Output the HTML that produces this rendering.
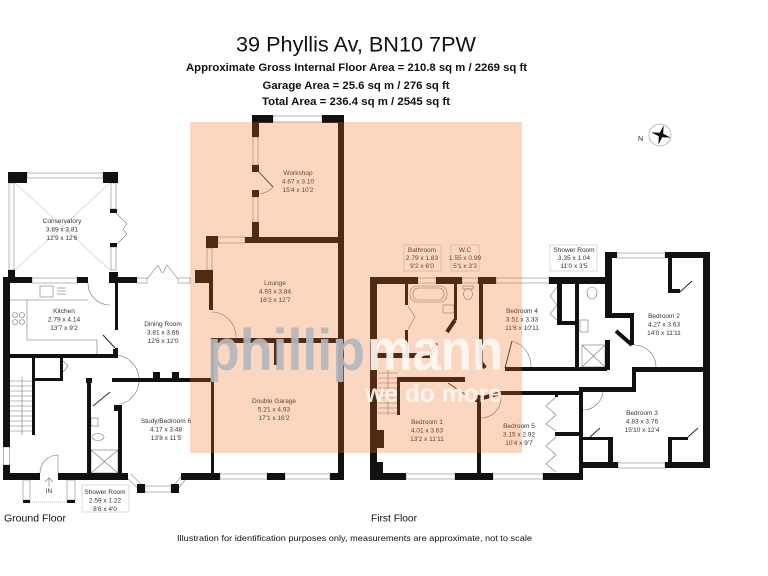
<!DOCTYPE html>
<html><head><meta charset="utf-8"><style>
html,body{margin:0;padding:0;background:#fff;}
svg{display:block;}
text{font-family:"Liberation Sans",Arial,sans-serif;}
.l{font-size:6.5px;fill:#333;text-anchor:middle;}
</style></head><body>
<svg width="768" height="576" viewBox="0 0 768 576" xmlns="http://www.w3.org/2000/svg">
<rect width="768" height="576" fill="#fff"/>

<!-- Title -->
<text x="356" y="51.5" text-anchor="middle" font-size="21.3" fill="#111" textLength="240" lengthAdjust="spacingAndGlyphs">39 Phyllis Av, BN10 7PW</text>
<text x="356.5" y="71" text-anchor="middle" font-size="11.3" font-weight="bold" fill="#111" textLength="341" lengthAdjust="spacingAndGlyphs">Approximate Gross Internal Floor Area = 210.8 sq m / 2269 sq ft</text>
<text x="356" y="89" text-anchor="middle" font-size="11.3" font-weight="bold" fill="#111" textLength="187" lengthAdjust="spacingAndGlyphs">Garage Area = 25.6 sq m / 276 sq ft</text>
<text x="356" y="105" text-anchor="middle" font-size="11.3" font-weight="bold" fill="#111" textLength="188" lengthAdjust="spacingAndGlyphs">Total Area = 236.4 sq m / 2545 sq ft</text>

<!-- Compass -->
<circle cx="660" cy="135" r="11" fill="none" stroke="#aaa" stroke-width="0.8"/>
<polygon points="663.6,125.3 663.2,133.75 670.7,137.6 662.25,137.2 658.4,144.7 658.8,136.25 651.3,132.4 659.75,132.8" fill="#111"/>
<text x="638" y="141" font-size="7" fill="#222">N</text>

<!-- thin lines / fixtures -->
<g fill="none" stroke="#777" stroke-width="0.6">
  <line x1="15" y1="183" x2="110" y2="270" stroke="#ccc"/>
  <line x1="110" y1="183" x2="15" y2="270" stroke="#ccc"/>
  <polyline points="116,213 127,224 123,229"/>
  <polyline points="116,245 127,234 123,229"/>
  <polyline points="147,279 158,265 162,273"/>
  <polyline points="178,279 167,265 163,273"/>
  <path d="M88,283 A22,22 0 0 0 110,305"/>
  <line x1="103" y1="335" x2="115" y2="348" stroke="#222" stroke-width="1"/>
  <polyline points="10,300 88,300"/>
  <polyline points="27,300 27,340 97,340 97,354"/>
  <rect x="40" y="286" width="13" height="11"/>
  <line x1="57" y1="288" x2="66" y2="288"/><line x1="57" y1="291" x2="66" y2="291"/><line x1="57" y1="294" x2="66" y2="294"/>
  <circle cx="15" cy="315" r="2.5"/><circle cx="22" cy="315" r="2.5"/><circle cx="15" cy="322" r="2.5"/><circle cx="22" cy="322" r="2.5"/>
  <polyline points="63,361 68,366 63,372"/>
  <line x1="10" y1="381" x2="32" y2="381"/><line x1="10" y1="386" x2="32" y2="386"/><line x1="10" y1="391" x2="32" y2="391"/>
  <line x1="10" y1="396" x2="32" y2="396"/><line x1="10" y1="401" x2="32" y2="401"/><line x1="10" y1="406" x2="32" y2="406"/>
  <line x1="10" y1="411" x2="32" y2="411"/><line x1="10" y1="416" x2="32" y2="416"/><line x1="10" y1="421" x2="32" y2="421"/>
  <line x1="10" y1="426" x2="32" y2="426"/><line x1="10" y1="431" x2="32" y2="431"/>
  <line x1="22" y1="377" x2="22" y2="435"/>
  <line x1="93" y1="406" x2="110" y2="392" stroke="#222" stroke-width="0.9"/>
  <path d="M113,355 A25,25 0 0 1 121,404"/>
  <rect x="91" y="418" width="7" height="8"/>
  <ellipse cx="98" cy="437" rx="6" ry="3.5"/>
  <rect x="91" y="450" width="27" height="23"/>
  <line x1="91" y1="450" x2="118" y2="473"/><line x1="118" y1="450" x2="91" y2="473"/>
  <path d="M40,473 A18,18 0 0 1 58,455"/>
  <line x1="58" y1="455" x2="58" y2="473"/>
  <line x1="30" y1="502" x2="67" y2="502" stroke-dasharray="1,1"/>
  <path d="M49,478 L45,482 M49,478 L53,482 M49,478 L49,487"/>
  <line x1="259" y1="172" x2="273" y2="187" stroke="#222" stroke-width="0.9"/>
  <path d="M273,187 A22,22 0 0 1 259,194"/>
  <path d="M212,312 A25,25 0 0 1 236,337"/>
  <rect x="410" y="286" width="37" height="16" rx="7"/>
  <rect x="413" y="288" width="31" height="12" rx="5"/>
  <polyline points="408,306 415,317 408,329"/>
  <rect x="443" y="305" width="11" height="8"/>
  <rect x="463" y="286" width="10" height="3"/>
  <ellipse cx="468" cy="294" rx="4.5" ry="5.5"/>
  <line x1="378" y1="373" x2="398" y2="373"/><line x1="378" y1="378" x2="398" y2="378"/><line x1="378" y1="383" x2="398" y2="383"/>
  <line x1="378" y1="388" x2="398" y2="388"/><line x1="378" y1="393" x2="398" y2="393"/><line x1="378" y1="398" x2="398" y2="398"/>
  <line x1="378" y1="403" x2="398" y2="403"/><line x1="378" y1="408" x2="398" y2="408"/><line x1="378" y1="413" x2="398" y2="413"/>
  <line x1="388" y1="368" x2="388" y2="415"/>
  <line x1="448" y1="383" x2="466" y2="395" stroke="#222" stroke-width="0.9"/>
  <path d="M501,398 A20,20 0 0 1 481,418"/>
  <line x1="505" y1="368" x2="512" y2="341" stroke="#222" stroke-width="0.9"/>
  <path d="M512,341 A26,26 0 0 1 531,367"/>
  <polyline points="557,287 550,296 557,305 550,314 557,320"/>
  <polyline points="556,397 546,406 556,415 546,424 556,431"/>
  <polyline points="556,437 546,446 556,455 546,464 556,472"/>
  <ellipse cx="592" cy="293" rx="5" ry="6"/>
  <rect x="580" y="320" width="8" height="12"/>
  <rect x="582" y="345" width="23" height="22"/>
  <line x1="582" y1="345" x2="605" y2="367"/><line x1="605" y1="345" x2="582" y2="367"/>
  <path d="M634,345 A22,22 0 0 1 656,367"/>
  <path d="M603,390 A20,20 0 0 1 583,410"/>
  <line x1="590" y1="437" x2="600" y2="428" stroke="#222" stroke-width="0.9"/>
  <line x1="688" y1="437" x2="698" y2="428" stroke="#222" stroke-width="0.9"/>
  <line x1="680" y1="292" x2="692" y2="281" stroke="#222" stroke-width="0.9"/>
</g>

<!-- windows -->
<g fill="#fff" stroke="#999" stroke-width="0.7">
  <rect x="27" y="173" width="76" height="5"/>
  <rect x="9" y="183" width="5" height="87"/>
  <rect x="111" y="183" width="5" height="26"/>
  <rect x="111" y="247" width="5" height="23"/>
  <rect x="32" y="278" width="45" height="5"/>
  <rect x="137" y="278" width="10" height="5"/>
  <rect x="178" y="278" width="12" height="5"/>
  <rect x="3.5" y="447" width="6" height="18"/>
  <rect x="23" y="480" width="7" height="20"/>
  <rect x="67" y="480" width="8" height="20"/>
  <rect x="145" y="486" width="26" height="6"/>
  <rect x="220" y="474" width="47" height="5"/>
  <rect x="285" y="474" width="45" height="5"/>
  <rect x="273" y="116" width="49" height="6"/>
  <rect x="253" y="137" width="5" height="28"/>
  <rect x="253" y="197" width="5" height="25"/>
  <rect x="218" y="237" width="27" height="6"/>
  <rect x="207" y="248" width="5" height="22"/>
  <rect x="418" y="278" width="18" height="5"/>
  <rect x="462" y="278" width="16" height="5"/>
  <rect x="496" y="278" width="53" height="5"/>
  <rect x="406" y="474" width="49" height="5"/>
  <rect x="493" y="474" width="50" height="5"/>
  <rect x="617" y="253" width="48" height="5"/>
  <rect x="618" y="463" width="47" height="5"/>
</g>
<line x1="129" y1="476" x2="139" y2="486" stroke="#999" stroke-width="6"/>
<line x1="129" y1="476" x2="139" y2="486" stroke="#fff" stroke-width="4.5"/>
<line x1="177" y1="486" x2="184" y2="477" stroke="#999" stroke-width="6"/>
<line x1="177" y1="486" x2="184" y2="477" stroke="#fff" stroke-width="4.5"/>

<!-- walls -->
<g fill="#111">
  <rect x="8" y="172" width="19" height="11"/><rect x="103" y="172" width="15" height="11"/>
  <rect x="110" y="209" width="7" height="4"/><rect x="110" y="243" width="7" height="4"/>
  <rect x="8" y="270" width="7" height="7"/><rect x="3" y="277" width="29" height="6"/>
  <rect x="77" y="277" width="11" height="6"/><rect x="109" y="272" width="9" height="11"/>
  <rect x="118" y="277" width="19" height="6"/>
  <rect x="195" y="270" width="18" height="13"/><rect x="206" y="236" width="12" height="12"/>
  <rect x="3" y="277" width="7" height="170"/><rect x="3" y="465" width="7" height="15"/>
  <rect x="3" y="473" width="37" height="7"/><rect x="58" y="473" width="70" height="7"/>
  <rect x="23" y="500" width="7" height="3"/><rect x="67" y="500" width="8" height="3"/>
  <rect x="137" y="484" width="8" height="9"/><rect x="171" y="484" width="8" height="9"/>
  <rect x="181" y="473" width="39" height="7"/>
  <rect x="3" y="354" width="115" height="4"/><rect x="113" y="349" width="5" height="9"/>
  <rect x="115" y="277" width="3" height="53"/><rect x="115" y="348" width="3" height="10"/>
  <rect x="32" y="358" width="3" height="77"/><rect x="32" y="378" width="31" height="3"/>
  <rect x="60" y="358" width="3" height="22"/>
  <rect x="87" y="380" width="4" height="93"/><rect x="86" y="378" width="6" height="5"/>
  <rect x="118" y="405" width="4" height="68"/><rect x="114" y="405" width="6" height="6"/>
  <rect x="112" y="378" width="99" height="4"/>
  <rect x="153" y="372" width="7" height="8"/><rect x="172" y="372" width="7" height="8"/>
  <rect x="252" y="115" width="21" height="8"/><rect x="322" y="115" width="21" height="8"/>
  <rect x="338" y="115" width="6" height="365"/>
  <rect x="252" y="123" width="7" height="14"/><rect x="252" y="165" width="7" height="7"/>
  <rect x="252" y="190" width="7" height="7"/><rect x="252" y="222" width="7" height="21"/>
  <rect x="245" y="237" width="99" height="6"/>
  <rect x="209" y="283" width="4" height="27"/>
  <rect x="211" y="338" width="133" height="5"/><rect x="274" y="338" width="4" height="27"/>
  <rect x="211" y="338" width="3" height="142"/>
  <rect x="267" y="473" width="18" height="7"/><rect x="330" y="473" width="14" height="7"/>
  <rect x="370" y="277" width="48" height="7"/><rect x="436" y="277" width="26" height="7"/>
  <rect x="478" y="277" width="18" height="7"/><rect x="549" y="277" width="61" height="7"/>
  <rect x="370" y="277" width="7" height="203"/>
  <rect x="370" y="473" width="36" height="7"/><rect x="455" y="473" width="38" height="7"/>
  <rect x="543" y="473" width="40" height="7"/>
  <rect x="377" y="430" width="7" height="18"/><rect x="377" y="462" width="6" height="11"/>
  <rect x="405" y="284" width="3" height="21"/><rect x="405" y="330" width="3" height="25"/>
  <rect x="370" y="353" width="60" height="5"/>
  <rect x="454" y="284" width="3" height="36"/><rect x="479" y="284" width="4" height="80"/>
  <rect x="397" y="377" width="68" height="5"/><rect x="397" y="380" width="3" height="35"/>
  <rect x="477" y="398" width="4" height="82"/><rect x="475" y="395" width="7" height="7"/>
  <rect x="500" y="391" width="83" height="4"/><rect x="505" y="367" width="102" height="4"/>
  <rect x="557" y="284" width="5" height="41"/><rect x="557" y="321" width="20" height="4"/>
  <rect x="575" y="284" width="4" height="86"/>
  <rect x="605" y="252" width="7" height="63"/><rect x="605" y="313" width="29" height="5"/>
  <rect x="630" y="313" width="4" height="32"/><rect x="605" y="340" width="5" height="30"/>
  <rect x="605" y="252" width="12" height="6"/><rect x="665" y="252" width="45" height="6"/>
  <rect x="703" y="252" width="7" height="216"/>
  <rect x="668" y="258" width="4" height="35"/><rect x="668" y="289" width="12" height="4"/>
  <rect x="632" y="367" width="78" height="5"/><rect x="632" y="367" width="4" height="25"/>
  <rect x="580" y="387" width="56" height="5"/><rect x="579" y="387" width="4" height="93"/>
  <rect x="608" y="437" width="5" height="25"/><rect x="583" y="437" width="30" height="3"/>
  <rect x="668" y="437" width="4" height="25"/><rect x="668" y="437" width="20" height="3"/>
  <rect x="583" y="462" width="35" height="6"/><rect x="665" y="462" width="45" height="6"/>
  <rect x="555" y="391" width="3" height="6"/><rect x="555" y="432" width="24" height="4"/>
</g>
<g stroke="#111" stroke-width="4" fill="none">
  <line x1="430" y1="355" x2="436" y2="343"/>
  <line x1="455" y1="320" x2="447" y2="332"/>
  <line x1="481" y1="362" x2="485" y2="368"/>
  <line x1="479" y1="399" x2="501" y2="393"/>
  <line x1="632" y1="345" x2="616" y2="331"/>
</g>

<!-- label boxes -->
<g fill="#fff" stroke="#ccc" stroke-width="0.7">
  <rect x="82" y="485" width="47" height="27"/>
  <rect x="404" y="245" width="37" height="26"/>
  <rect x="451" y="245" width="28" height="26"/>
  <rect x="550" y="245" width="47" height="26"/>
</g>

<!-- room labels -->
<g>
<text class="l" x="62" y="223">Conservatory</text><text class="l" x="62" y="231.5">3.89 x 3.81</text><text class="l" x="62" y="240">12'9 x 12'6</text>
<text class="l" x="64" y="313">Kitchen</text><text class="l" x="64" y="321.5">2.79 x 4.14</text><text class="l" x="64" y="330">13'7 x 9'2</text>
<text class="l" x="163" y="326">Dining Room</text><text class="l" x="163" y="334.5">3.81 x 3.66</text><text class="l" x="163" y="343">12'6 x 12'0</text>
<text class="l" x="166" y="423">Study/Bedroom 6</text><text class="l" x="166" y="431.5">4.17 x 3.48</text><text class="l" x="166" y="440">13'8 x 11'5</text>
<text class="l" x="105" y="494">Shower Room</text><text class="l" x="105" y="502.5">2.59 x 1.22</text><text class="l" x="105" y="511">8'6 x 4'0</text>
<text class="l" x="49" y="493">IN</text>
<text class="l" x="298" y="175">Workshop</text><text class="l" x="298" y="183.5">4.67 x 3.10</text><text class="l" x="298" y="192">15'4 x 10'2</text>
<text class="l" x="275" y="285">Lounge</text><text class="l" x="275" y="293.5">4.93 x 3.84</text><text class="l" x="275" y="302">16'2 x 12'7</text>
<text class="l" x="274" y="403">Double Garage</text><text class="l" x="274" y="411.5">5.21 x 4.93</text><text class="l" x="274" y="420">17'1 x 16'2</text>
<text class="l" x="422" y="252">Bathroom</text><text class="l" x="422" y="260">2.79 x 1.83</text><text class="l" x="422" y="268">9'2 x 6'0</text>
<text class="l" x="465" y="252">W.C</text><text class="l" x="465" y="260">1.55 x 0.99</text><text class="l" x="465" y="268">5'1 x 3'3</text>
<text class="l" x="574" y="252">Shower Room</text><text class="l" x="574" y="260">3.35 x 1.04</text><text class="l" x="574" y="268">11'0 x 3'5</text>
<text class="l" x="522" y="313">Bedroom 4</text><text class="l" x="522" y="321.5">3.51 x 3.33</text><text class="l" x="522" y="330">11'6 x 10'11</text>
<text class="l" x="664" y="318">Bedroom 2</text><text class="l" x="664" y="326.5">4.27 x 3.63</text><text class="l" x="664" y="335">14'0 x 11'11</text>
<text class="l" x="427" y="424">Bedroom 1</text><text class="l" x="427" y="432.5">4.01 x 3.63</text><text class="l" x="427" y="441">13'2 x 11'11</text>
<text class="l" x="519" y="428">Bedroom 5</text><text class="l" x="519" y="436.5">3.15 x 2.92</text><text class="l" x="519" y="445">10'4 x 9'7</text>
<text class="l" x="642" y="415">Bedroom 3</text><text class="l" x="642" y="423.5">4.83 x 3.76</text><text class="l" x="642" y="432">15'10 x 12'4</text>
</g>

<!-- peach overlay (garage area) -->
<rect x="190" y="122" width="332" height="331" fill="rgb(240,112,32)" fill-opacity="0.28"/>

<!-- watermark -->
<text x="207" y="370" font-size="58" font-weight="bold" fill="#b2b7bd" fill-opacity="0.92" textLength="158" lengthAdjust="spacingAndGlyphs">phillip</text>
<text x="367" y="370" font-size="58" font-weight="bold" fill="#fdf7f3" fill-opacity="0.92" textLength="136" lengthAdjust="spacingAndGlyphs">mann</text>
<text x="365" y="402" font-size="25" font-weight="bold" fill="#fdf7f3" fill-opacity="0.9" textLength="137" lengthAdjust="spacingAndGlyphs">we do more</text>

<!-- floor titles -->
<text x="4" y="521.5" font-size="10.5" fill="#111" textLength="62" lengthAdjust="spacingAndGlyphs">Ground Floor</text>
<text x="371" y="521.5" font-size="10.5" fill="#111" textLength="46" lengthAdjust="spacingAndGlyphs">First Floor</text>
<text x="177" y="541" font-size="8.6" fill="#111" textLength="355" lengthAdjust="spacingAndGlyphs">Illustration for identification purposes only, measurements are approximate, not to scale</text>
</svg>
</body></html>
